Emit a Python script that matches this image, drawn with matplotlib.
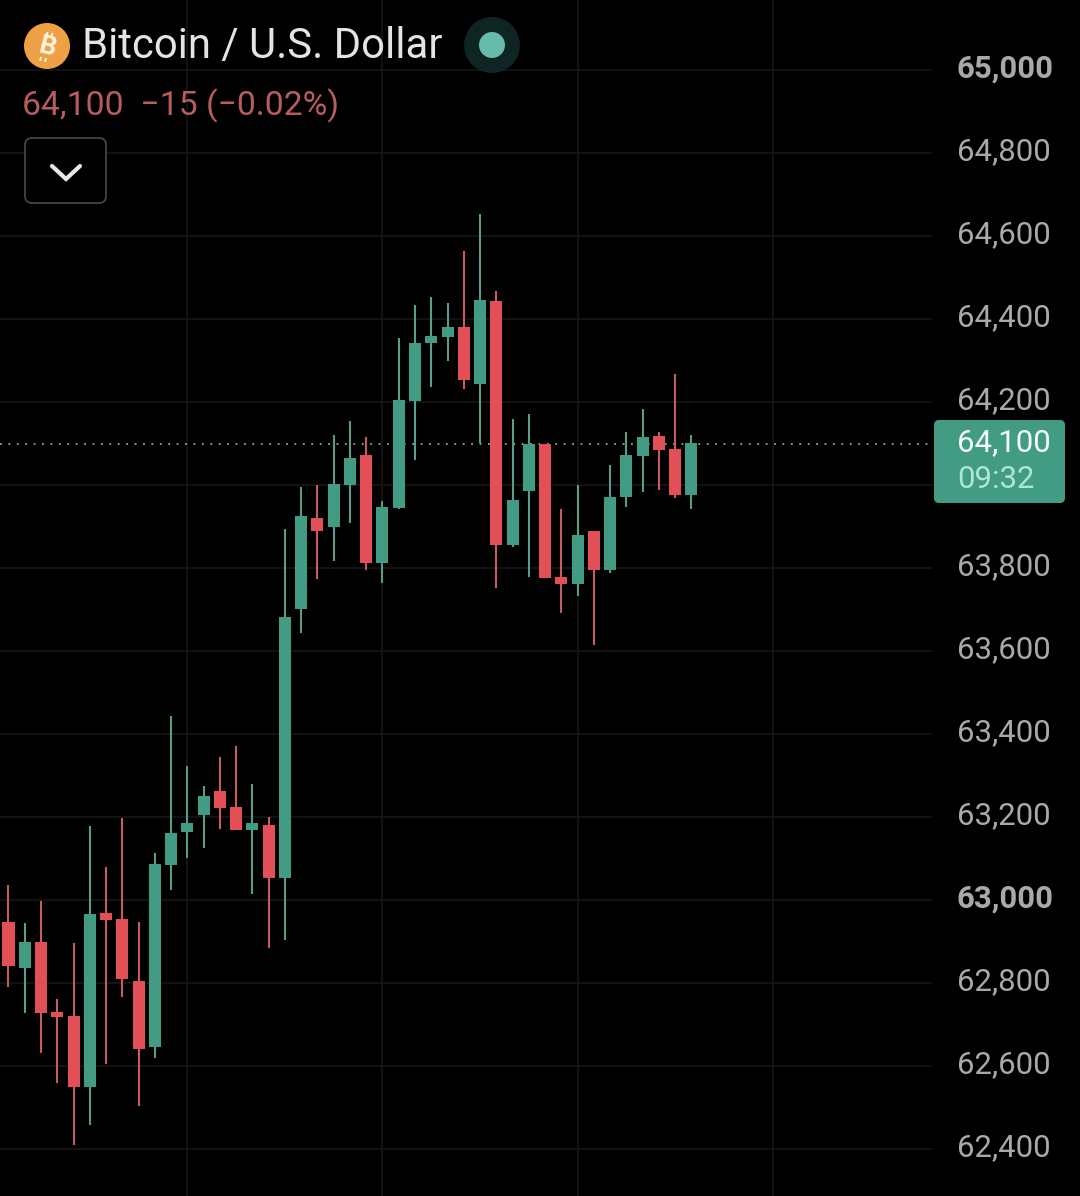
import matplotlib
matplotlib.use("Agg")
import matplotlib.pyplot as plt
from matplotlib.patches import Circle, FancyBboxPatch
from matplotlib.ticker import FixedLocator, FuncFormatter
from matplotlib.transforms import ScaledTranslation

# OHLC candles for BTC/USD
opens = [62948, 62837, 62899, 62730, 62720, 62550, 62969, 62954, 62805, 62646,
         63084, 63164, 63205, 63263, 63224, 63169, 63181, 63054, 63701, 63921,
         63899, 64000, 64072, 63812, 63945, 64203, 64341, 64357, 64381, 64244,
         64444, 63856, 63986, 64099, 63778, 63762, 63889, 63794, 63970, 64070,
         64118, 64087, 63976]
highs = [63036, 62945, 62998, 62761, 62896, 63178, 63080, 63198, 62947, 63114,
         63443, 63323, 63275, 63345, 63371, 63280, 63200, 63894, 63996, 64000,
         64121, 64154, 64116, 63962, 64354, 64434, 64453, 64439, 64564, 64653,
         64468, 64159, 64171, 64099, 63942, 64000, 63889, 64048, 64128, 64183,
         64128, 64268, 64121]
lows = [62791, 62728, 62631, 62560, 62410, 62458, 62605, 62767, 62504, 62619,
        63024, 63102, 63126, 63171, 63169, 63014, 62885, 62904, 63644, 63774,
        63817, 63909, 63794, 63765, 63941, 64060, 64237, 64299, 64232, 64101,
        63753, 63851, 63779, 63776, 63692, 63733, 63615, 63788, 63948, 63982,
        63988, 63969, 63943]
closes = [62842, 62899, 62728, 62718, 62550, 62966, 62952, 62810, 62641, 63087,
          63161, 63186, 63251, 63222, 63169, 63186, 63054, 63682, 63925, 63890,
          64003, 64065, 63812, 63947, 64205, 64342, 64359, 64381, 64253, 64446,
          63856, 63964, 64099, 63776, 63762, 63880, 63794, 63971, 64072, 64116,
          64085, 63976, 64100]

price_ticks = [65000, 64800, 64600, 64400, 64200, 64000, 63800, 63600,
               63400, 63200, 63000, 62800, 62600, 62400]
hidden_tick = 64000
bold_ticks = [65000, 63000]
time_grid = [11, 23, 35, 47]
last_price = 64100
last_price_label = "64,100"
countdown = "09:32"
title = "Bitcoin / U.S. Dollar"
change_label = "64,100  \u221215 (\u22120.02%)"

WIDTH, HEIGHT = 1080, 1196
PLOT_RIGHT = 932
PX_PER_USD = 0.415
PX_PER_BAR = 16.26
FIRST_BAR_X = 8.5
ANCHOR_PRICE, ANCHOR_Y = 63000, 900

GREEN = "#429b83"
RED = "#e34f57"
GREEN_WICK = "#5a9c8a"
RED_WICK = "#c75c66"
GRID = "#161616"
TICK_TEXT = "#a9a9a9"
COIN_MARK = "#fdf3e2"

plt.rcParams["font.family"] = ["Roboto", "DejaVu Sans"]

fig = plt.figure(figsize=(WIDTH / 100, HEIGHT / 100), dpi=100, facecolor="black")
ax = fig.add_axes([0, 0, PLOT_RIGHT / WIDTH, 1], facecolor="black")

ax.set_xlim(-FIRST_BAR_X / PX_PER_BAR, (PLOT_RIGHT - FIRST_BAR_X) / PX_PER_BAR)
ax.set_ylim(ANCHOR_PRICE - (HEIGHT - ANCHOR_Y) / PX_PER_USD,
            ANCHOR_PRICE + ANCHOR_Y / PX_PER_USD)

# Grid and price axis
for spine in ax.spines.values():
    spine.set_visible(False)
ax.xaxis.set_major_locator(FixedLocator(time_grid))
ax.yaxis.set_major_locator(FixedLocator(price_ticks))
ax.grid(True, color=GRID, linewidth=1.2, zorder=0)
ax.set_axisbelow(True)
ax.tick_params(axis="x", length=0, labelbottom=False)
ax.yaxis.tick_right()
ax.tick_params(axis="y", length=0, pad=18, labelsize=22.4, labelcolor=TICK_TEXT)
ax.yaxis.set_major_formatter(
    FuncFormatter(lambda v, _: "" if v == hidden_tick else f"{v:,.0f}"))
label_lift = ScaledTranslation(0, 4.5 / 100, fig.dpi_scale_trans)
for label, value in zip(ax.get_yticklabels(), price_ticks):
    label.set_transform(label.get_transform() + label_lift)
    if value in bold_ticks:
        label.set_fontweight("bold")

# Dotted marker for the current price
ax.axhline(last_price, color="#8aa89f", linewidth=1.3, linestyle=(0, (1, 3.66)), zorder=1)

# Candles
bars = range(len(opens))
for i in bars:
    rising = closes[i] >= opens[i]
    ax.vlines(i, lows[i], highs[i], color=GREEN_WICK if rising else RED_WICK,
              linewidth=1.5, zorder=2)
    ax.bar(i, abs(closes[i] - opens[i]), bottom=min(opens[i], closes[i]), width=0.74,
           color=GREEN if rising else RED, linewidth=0, zorder=3)

# Header and price tag, laid out in pixels on a transparent overlay
overlay = fig.add_axes([0, 0, 1, 1], facecolor="none")
overlay.set_xlim(0, WIDTH)
overlay.set_ylim(HEIGHT, 0)
overlay.axis("off")

# Coin badge: a tilted B with the short strokes of the bitcoin sign
overlay.add_patch(Circle((47, 46), 23, facecolor="#eda044", edgecolor="none"))
overlay.text(47, 47, "B", color=COIN_MARK, fontsize=19, fontweight="bold",
             rotation=-14, ha="center", va="center")
for stroke_x, stroke_y in [(47.5, 32), (52.5, 33), (41, 57), (46, 58)]:
    overlay.plot([stroke_x, stroke_x - 0.9], [stroke_y, stroke_y + 4], color=COIN_MARK,
                 linewidth=1.4, solid_capstyle="butt")

overlay.text(82, 58, title, color="#e4e4e4", fontsize=30.2, ha="left", va="baseline")
overlay.text(22, 115, change_label, color="#b75c5f", fontsize=24.3, ha="left", va="baseline")

overlay.add_patch(Circle((492, 45), 28, facecolor="#0f2523", edgecolor="none"))
overlay.add_patch(Circle((492, 45), 13, facecolor="#66bbaa", edgecolor="none"))

overlay.add_patch(FancyBboxPatch((28, 141), 75, 59, boxstyle="round,pad=3,rounding_size=7",
                                 facecolor="black", edgecolor="#4a4a4a", linewidth=1.2))
overlay.plot([52, 66, 80], [166, 179, 166], color="#e8e8e8", linewidth=3,
             solid_capstyle="round", solid_joinstyle="miter")

overlay.add_patch(FancyBboxPatch((938, 424), 123, 75, boxstyle="round,pad=4,rounding_size=5",
                                 facecolor=GREEN, edgecolor="none"))
overlay.text(957, 442.5, last_price_label, color="#f2fbf8", fontsize=22.4, ha="left", va="center")
overlay.text(957, 480, countdown, color="#aee5d6", fontsize=22.4, ha="left", va="center")

fig.savefig("out.png", dpi=100, facecolor="black")
